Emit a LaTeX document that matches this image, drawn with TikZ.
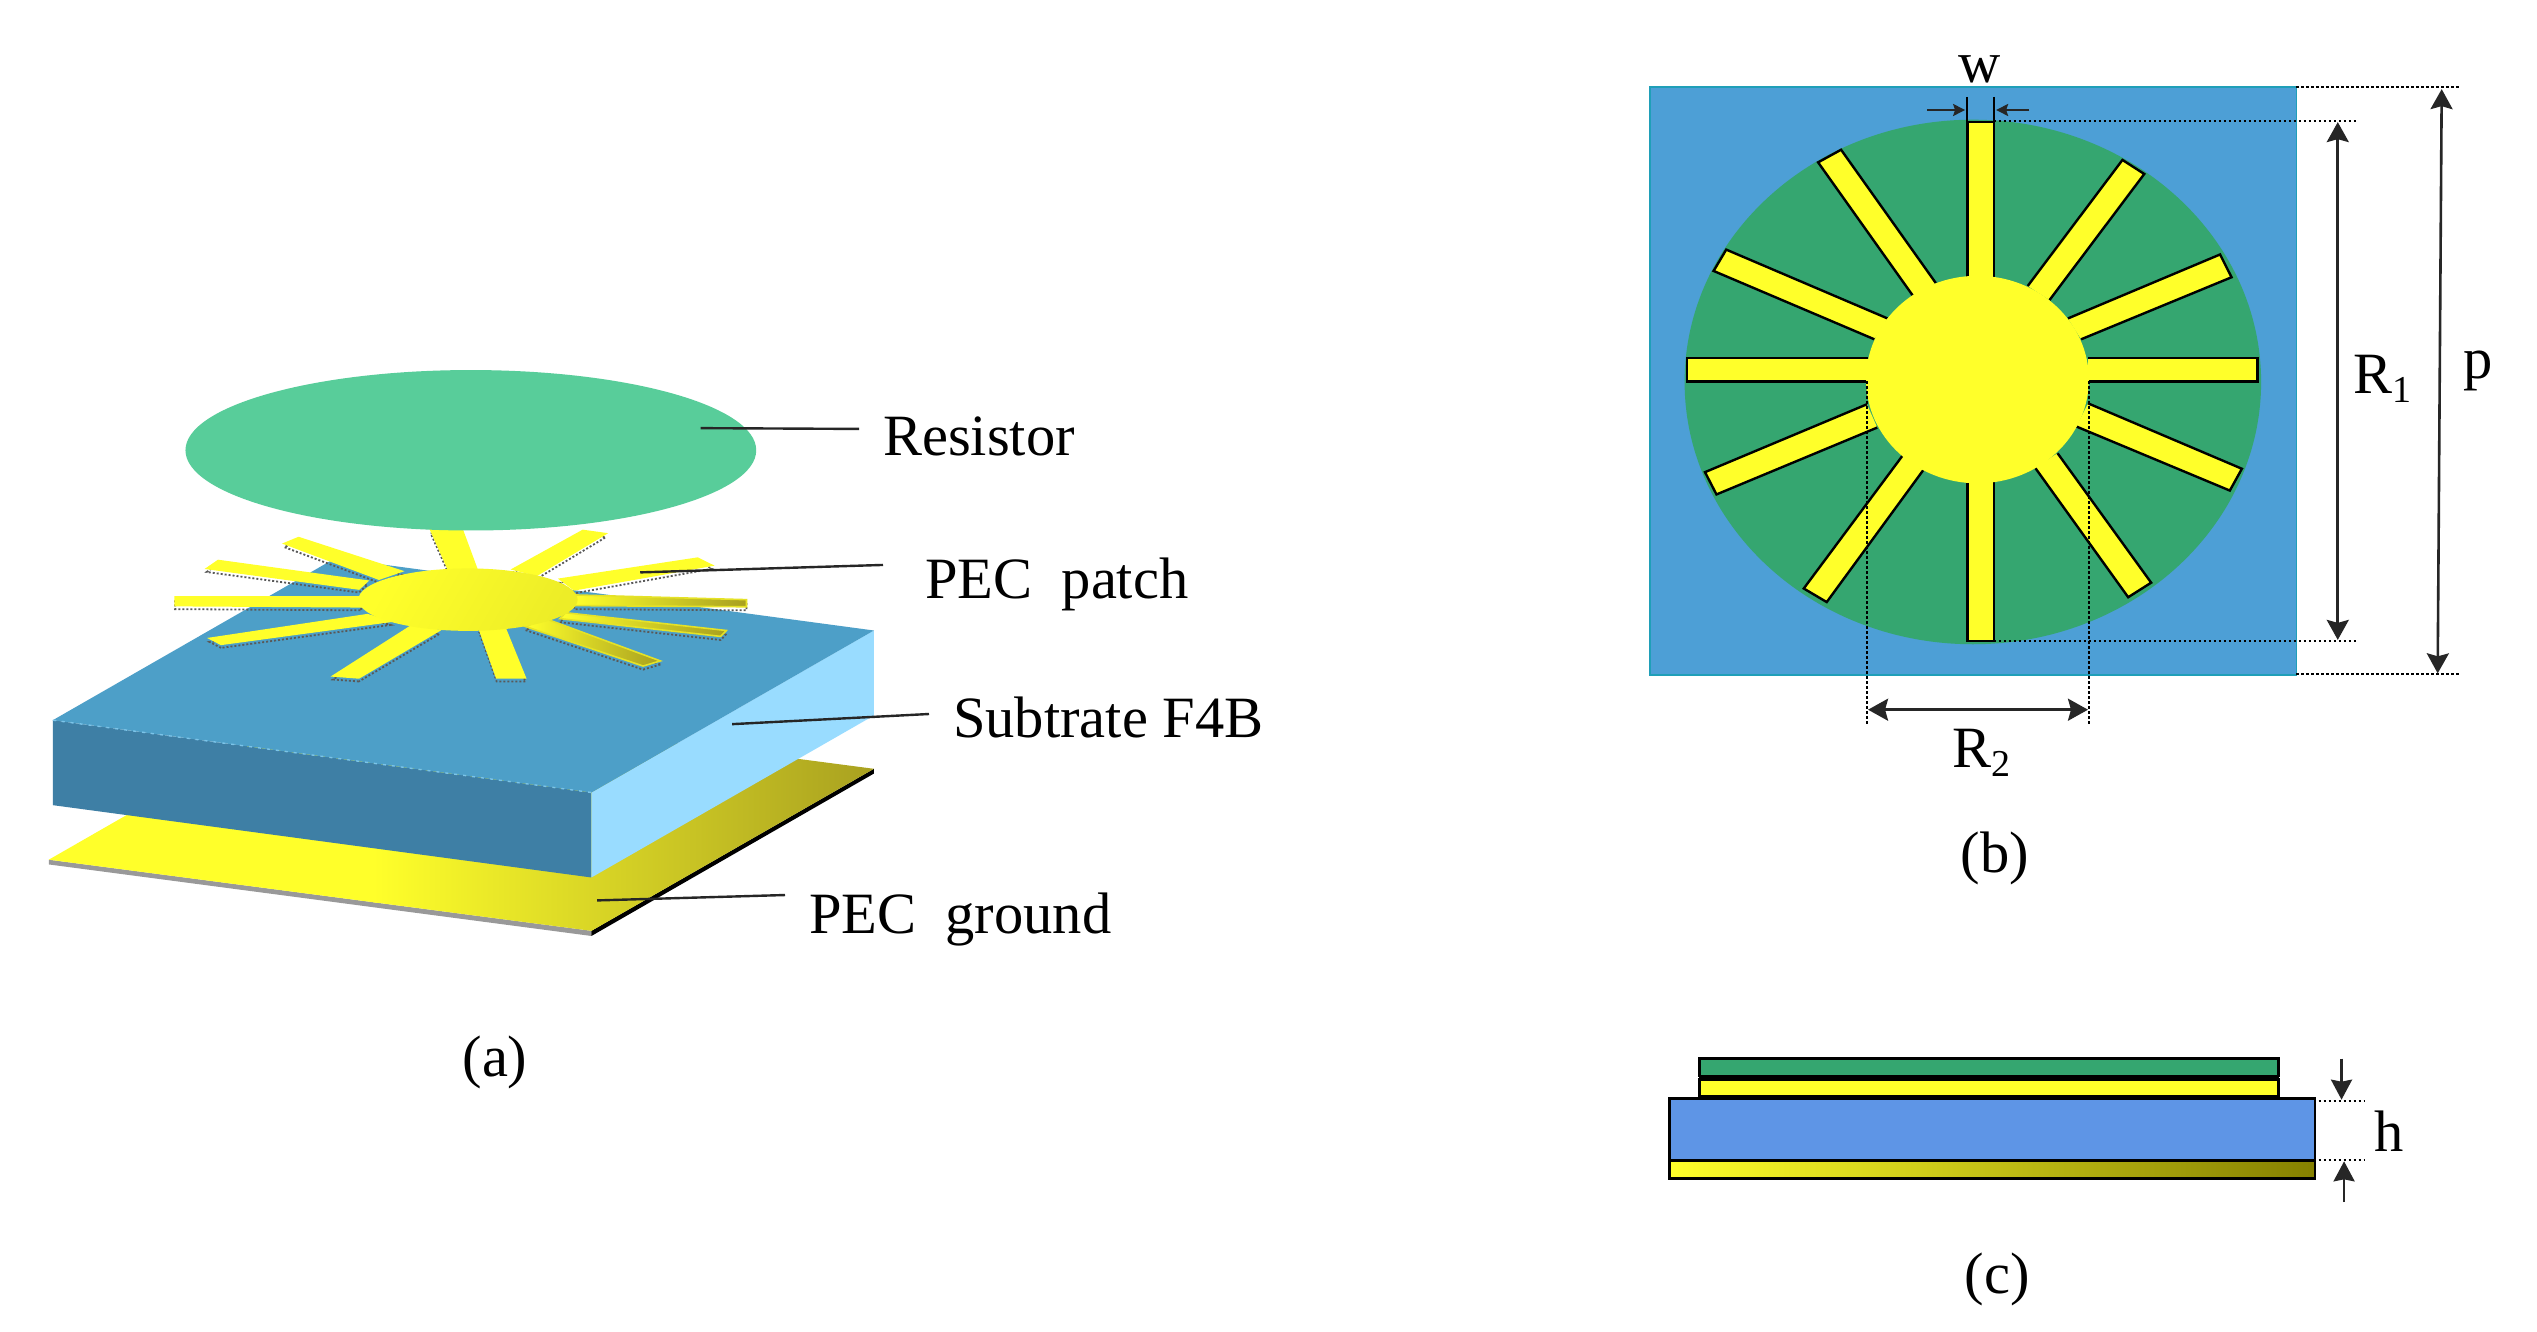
\documentclass[tikz,border=0pt]{standalone}
\usepackage{fontspec}
\setmainfont{Liberation Serif}
\usetikzlibrary{arrows.meta}
\definecolor{resgreen}{HTML}{58CD9A}
\definecolor{topblue}{HTML}{4D9FC8}
\definecolor{frontblue}{HTML}{3E7FA5}
\definecolor{sideblue}{HTML}{99DCFF}
\definecolor{pecyellow}{HTML}{FFFF2A}
\definecolor{pecdark}{HTML}{A8A020}
\definecolor{squareblue}{HTML}{4D9FD6}
\definecolor{squareedge}{HTML}{1F9FB8}
\definecolor{discgreen}{HTML}{35A670}
\definecolor{layerblue}{HTML}{5E95E6}
\definecolor{layerolive}{HTML}{858000}
\tikzset{
  labeltext/.style={inner sep=0pt,font=\fontsize{58.5}{60}\selectfont,text=black},
  leader/.style={draw=black!85,line width=2.4pt},
  dimdot/.style={draw=black,line width=2.2pt,dash pattern=on 2.5pt off 2.5pt},
  dimarrow/.style={draw=black!85,line width=2.6pt,{Stealth[length=20pt,width=22pt,inset=3pt]}-{Stealth[length=20pt,width=22pt,inset=3pt]}},
  smallarrow/.style={draw=black!85,line width=2.2pt,-{Stealth[length=12pt,width=12pt,inset=2pt]}},
  midarrow/.style={draw=black!85,line width=2.6pt,-{Stealth[length=20pt,width=21pt,inset=2pt]}},
  armshadow/.style={draw=black!65,line width=1.8pt,dash pattern=on 2pt off 2pt},
  armflat/.style={fill=pecyellow,draw=pecyellow,line width=1.6pt},
  armshade/.style={left color=pecyellow,right color=pecdark,draw=pecyellow!70!pecdark,line width=1.6pt},
  armedge/.style={draw=black,line width=2.4pt},
  layer/.style={draw=black,line width=2.6pt}
}
\newcommand{\persparm}[5]{%
  \draw[armshadow,shift={(0,9)}] #2 -- #3 -- #4 -- #5 -- cycle;
  \path[#1] #2 -- #3 -- #4 -- #5 -- cycle;}
\newcommand{\toparm}[4]{%
  \fill[pecyellow] #1 -- #2 -- #3 -- #4 -- cycle;
  \draw[armedge] #1 -- #2 -- #3 -- #4;}
\newcommand{\subs}[1]{{\fontsize{38}{40}\selectfont\raisebox{-9pt}{#1}}}
\begin{document}
\begin{tikzpicture}[x=1pt,y=-1pt]
\useasboundingbox (0,0) rectangle (2537,1331);
\fill[white] (0,0) rectangle (2537,1331);

% ---------- panel (a)
\begin{scope}[shift={(0,340)},x=0.5742pt,y=-0.3952pt]
  % ground
  \fill[gray!80] (85,1315) -- (1030,1495) -- (1030,1508) -- (85,1327) -- cycle;
  \fill[black] (1030,1495) -- (1522,1085) -- (1522,1097) -- (1030,1508) -- cycle;
  \begin{scope}
    \clip (85,1315) -- (1030,1495) -- (1522,1085) -- (577,905) -- cycle;
    \fill[pecyellow] (60,880) rectangle (660,1520);
    \shade[left color=pecyellow,right color=pecdark] (650,880) rectangle (1530,1520);
  \end{scope}
  % substrate
  \fill[frontblue] (92,962) -- (1030,1145) -- (1030,1360) -- (92,1177) -- cycle;
  \fill[sideblue] (1030,1145) -- (1522,735) -- (1522,950) -- (1030,1360) -- cycle;
  \fill[topblue] (92,962) -- (1030,1145) -- (1522,735) -- (584,552) -- cycle;
  \draw[sideblue!60!topblue,line width=1.4pt,dash pattern=on 3pt off 6pt] (92,962) -- (1030,1145);
  % patch arms
  \persparm{armflat}{(750,480)}{(805,480)}{(830,578)}{(780,578)}
  \persparm{armflat}{(1015,482)}{(1055,490)}{(935,595)}{(893,580)}
  \persparm{armflat}{(1215,552)}{(1240,570)}{(1000,632)}{(975,605)}
  \persparm{armshade}{(1300,657)}{(1300,675)}{(1000,672)}{(1000,645)}
  \persparm{armshade}{(1265,735)}{(1255,750)}{(975,705)}{(985,690)}
  \persparm{armshade}{(1150,812)}{(1120,825)}{(915,725)}{(950,705)}
  \persparm{armflat}{(915,855)}{(865,855)}{(835,732)}{(880,730)}
  \persparm{armflat}{(625,855)}{(580,850)}{(720,720)}{(765,735)}
  \persparm{armflat}{(385,770)}{(365,755)}{(640,695)}{(680,712)}
  \persparm{armflat}{(305,650)}{(305,672)}{(630,675)}{(625,650)}
  \persparm{armflat}{(380,558)}{(360,578)}{(625,630)}{(640,610)}
  \persparm{armflat}{(520,500)}{(495,515)}{(660,605)}{(700,585)}
  % hub and resistor
  \shade[left color=pecyellow,middle color=pecyellow,right color=pecyellow!93!black,shading angle=60]
     (815,657) ellipse [x radius=191,y radius=79];
  \fill[resgreen] (820,279) ellipse [x radius=497,y radius=203];
  % leader ends on the parts
  \coordinate (resend) at (1220,223);
  \coordinate (patchend) at (1115,588);
  \coordinate (subend) at (1275,972);
  \coordinate (groundend) at (1040,1418);
\end{scope}

\node[labeltext,anchor=base west] (resistor) at (883,455) {Resistor};
\node[labeltext,anchor=base west] (patch) at (925,598) {PEC\ \ patch};
\node[labeltext,anchor=base west] (substrate) at (953,737) {Subtrate F4B};
\node[labeltext,anchor=base west] (ground) at (809,933) {PEC\ \ ground};
\draw[leader] (resend) -- ([xshift=-24pt,yshift=7pt]resistor.west);
\draw[leader] (patchend) -- ([xshift=-42pt,yshift=19pt]patch.west);
\draw[leader] (subend) -- ([xshift=-24pt,yshift=3pt]substrate.west);
\draw[leader] (groundend) -- ([xshift=-24pt,yshift=24pt]ground.west);
\node[labeltext] (capa) at (495,1062) {(a)};

% ---------- panel (b)
\begin{scope}[shift={(1620,30)},x=0.5742pt,y=-0.4848pt]
  \fill[squareblue] (52,118) rectangle (1178,1330);
  \draw[squareedge,line width=1.8pt] (52,118) rectangle (1178,1330);
  \fill[discgreen] (614.5,726) ellipse [x radius=502,y radius=541];
  \toparm{(605,510)}{(605,190)}{(651,190)}{(651,510)}
  \toparm{(605,932)}{(605,1260)}{(651,1260)}{(651,932)}
  \toparm{(432,677)}{(117,677)}{(117,725)}{(432,725)}
  \toparm{(815,677)}{(1110,677)}{(1110,725)}{(815,725)}
  \toparm{(710,528)}{(875,268)}{(913,297)}{(748,557)}
  \toparm{(780,595)}{(1045,463)}{(1065,510)}{(803,638)}
  \toparm{(815,770)}{(1083,905)}{(1062,950)}{(795,818)}
  \toparm{(762,873)}{(925,1140)}{(885,1170)}{(723,903)}
  \toparm{(528,908)}{(360,1180)}{(320,1152)}{(492,878)}
  \toparm{(448,820)}{(168,958)}{(148,912)}{(430,772)}
  \toparm{(443,638)}{(163,497)}{(185,453)}{(466,595)}
  \toparm{(510,548)}{(345,273)}{(385,247)}{(550,522)}
  \fill[pecyellow] (622.5,721) ellipse [x radius=194,y radius=214];
  % dimension anchors
  \coordinate (r1a) at (651,187); \coordinate (r1ae) at (1282,187);
  \coordinate (r1b) at (651,1260); \coordinate (r1be) at (1282,1260);
  \coordinate (pa) at (1178,118); \coordinate (pae) at (1463,118);
  \coordinate (pb) at (1178,1329); \coordinate (pbe) at (1463,1329);
  \coordinate (r2a) at (430,725); \coordinate (r2ae) at (430,1435);
  \coordinate (r2b) at (817,725); \coordinate (r2be) at (817,1435);
  \coordinate (wa) at (605,138); \coordinate (wae) at (605,190);
  \coordinate (wb) at (651,138); \coordinate (wbe) at (651,190);
  \coordinate (wl) at (535,165); \coordinate (wlt) at (601,165);
  \coordinate (wr) at (713,165); \coordinate (wrt) at (655,165);
  \coordinate (r1t) at (1250,190); \coordinate (r1d) at (1250,1258);
  \coordinate (pt) at (1431,122); \coordinate (pd) at (1424,1327);
  \coordinate (r2l) at (432,1402); \coordinate (r2r) at (815,1402);
  \node[labeltext] (wlab) at (626,81) {w};
  \node[labeltext] (r1lab) at (1328,720) {R\subs{1}};
  \node[labeltext] (plab) at (1495,704) {p};
  \node[labeltext] (r2lab) at (630,1490) {R\subs{2}};
\end{scope}
\draw[dimdot] (r1a) -- (r1ae);
\draw[dimdot] (r1b) -- (r1be);
\draw[dimdot] (pa) -- (pae);
\draw[dimdot] (pb) -- (pbe);
\draw[dimdot] (r2a) -- (r2ae);
\draw[dimdot] (r2b) -- (r2be);
\draw[draw=black,line width=2pt] (wa) -- (wae);
\draw[draw=black,line width=2pt] (wb) -- (wbe);
\draw[smallarrow] (wl) -- (wlt);
\draw[smallarrow] (wr) -- (wrt);
\draw[dimarrow] (r1t) -- (r1d);
\draw[dimarrow] (pt) -- (pd);
\draw[dimarrow] (r2l) -- (r2r);
\node[labeltext] (capb) at (1995,858) {(b)};

% ---------- panel (c)
\begin{scope}[shift={(1640,1032)},x=0.5102pt,y=-0.3333pt]
  \draw[layer,fill=discgreen] (116,80) rectangle (1252,132);
  \fill[black] (116,132) rectangle (1252,144);
  \draw[layer,fill=pecyellow] (116,142) rectangle (1252,194);
  \fill[black] (116,192) rectangle (1252,202);
  \shade[left color=pecyellow,right color=layerolive] (58,385) rectangle (1323,440);
  \draw[layer] (58,385) rectangle (1323,440);
  \draw[layer,fill=layerblue] (58,200) rectangle (1323,385);
  \coordinate (ha) at (1330,206); \coordinate (hae) at (1420,206);
  \coordinate (hb) at (1330,385); \coordinate (hbe) at (1420,385);
  \coordinate (hts) at (1375,80); \coordinate (hte) at (1375,203);
  \coordinate (hbs) at (1380,510); \coordinate (hbt) at (1380,388);
  \node[labeltext] (hlab) at (1468,298) {h};
\end{scope}
\draw[dimdot] (ha) -- (hae);
\draw[dimdot] (hb) -- (hbe);
\draw[midarrow] (hts) -- (hte);
\draw[midarrow] (hbs) -- (hbt);
\node[labeltext] (capc) at (1997,1279) {(c)};
\end{tikzpicture}
\end{document}
